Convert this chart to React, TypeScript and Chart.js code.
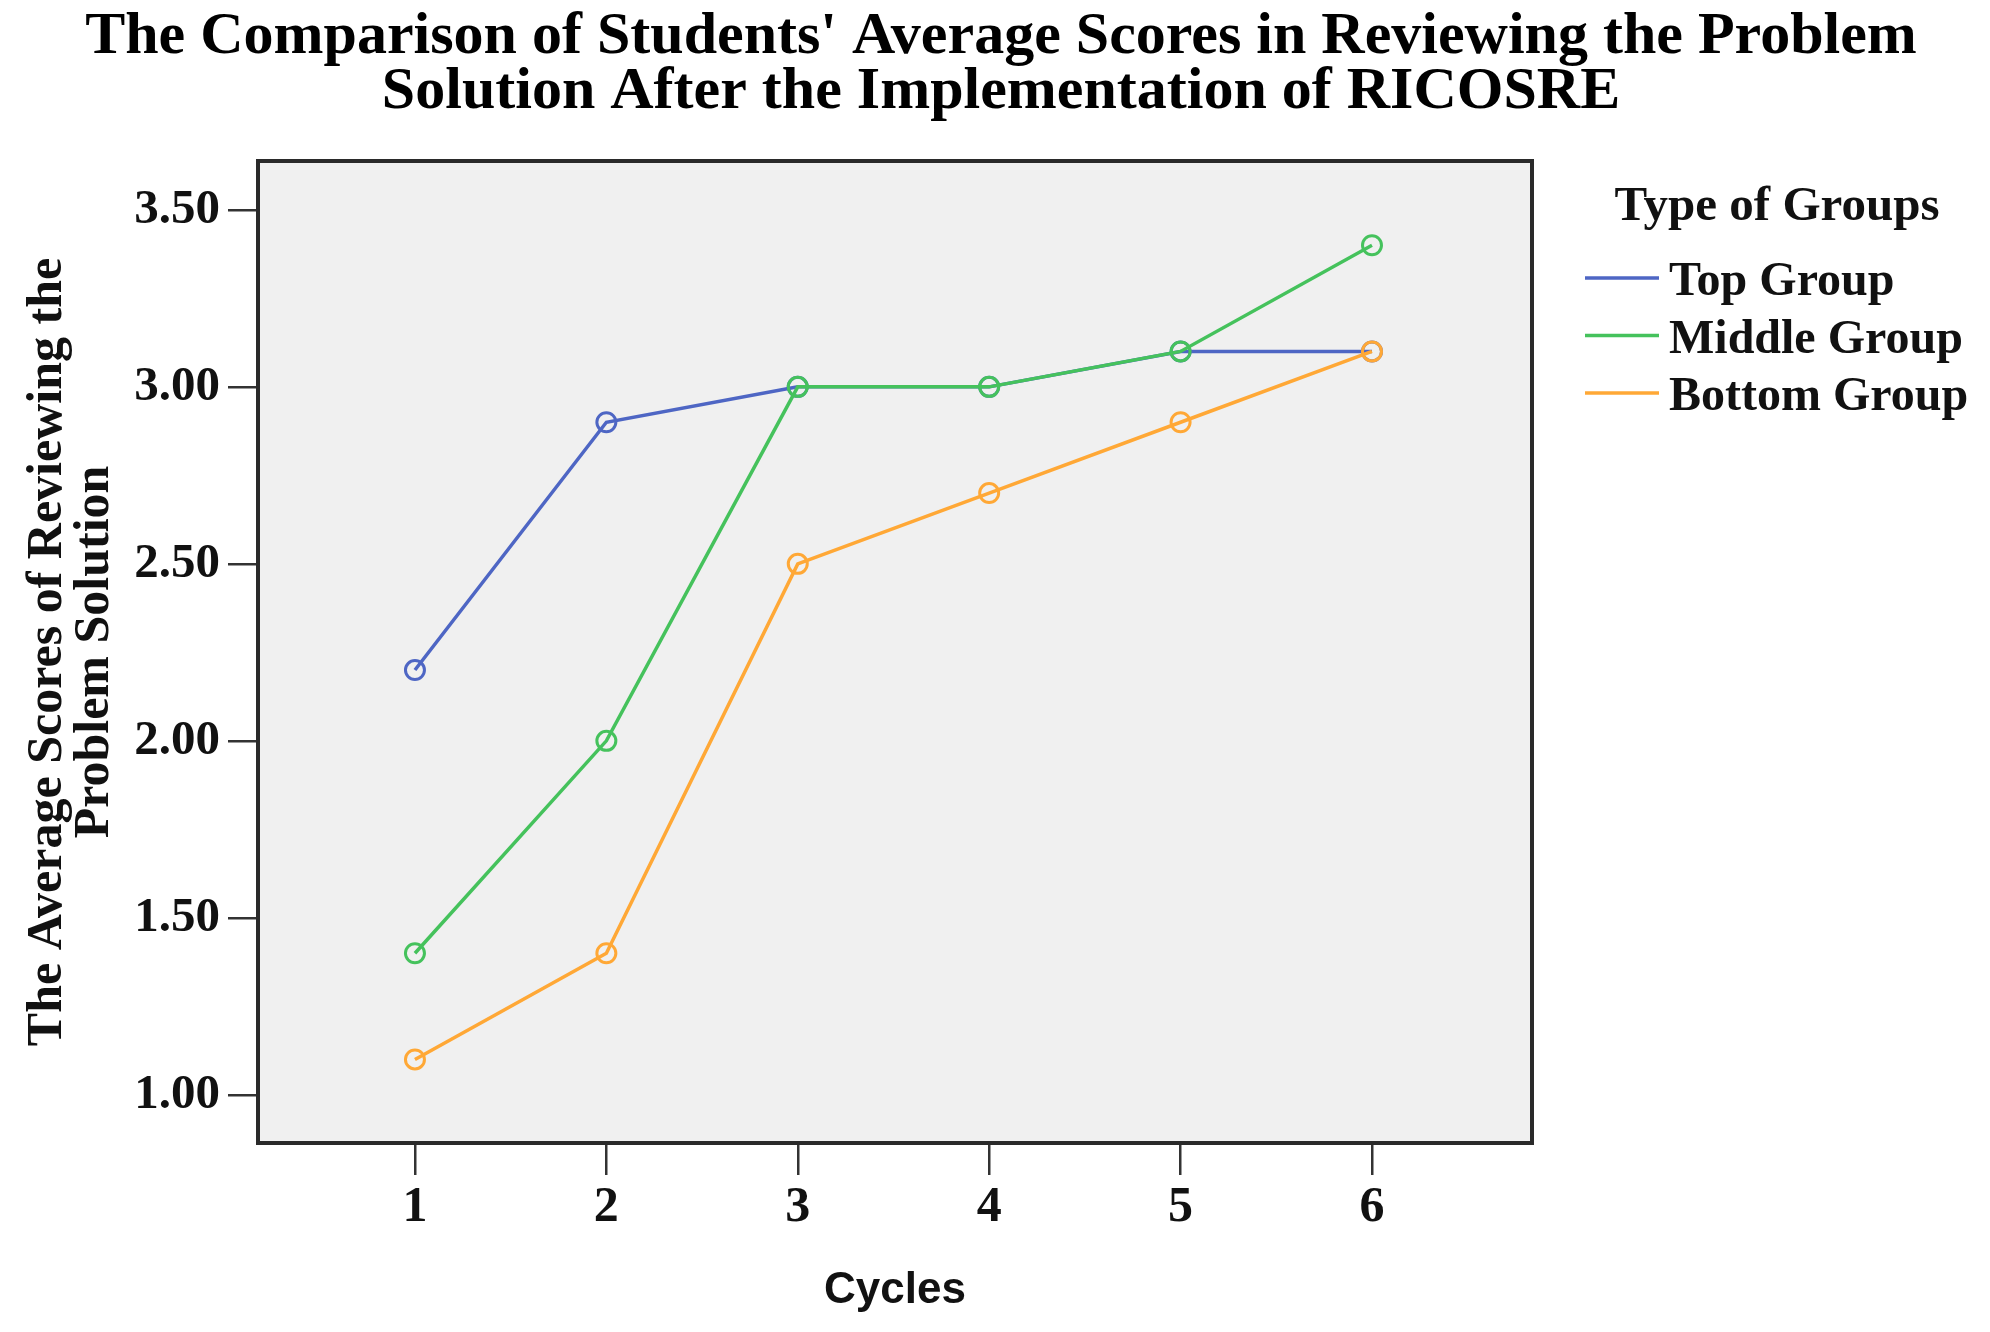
import React, { useEffect, useRef } from 'react';
import { Chart, registerables } from 'chart.js';

Chart.register(...registerables);

const cycles = [1, 2, 3, 4, 5, 6];
const topGroup = [2.2, 2.9, 3.0, 3.0, 3.1, 3.1];
const middleGroup = [1.4, 2.0, 3.0, 3.0, 3.1, 3.4];
const bottomGroup = [1.1, 1.4, 2.5, 2.7, 2.9, 3.1];
const yTickValues = [1.0, 1.5, 2.0, 2.5, 3.0, 3.5];
const seriesNames = ['Top Group', 'Middle Group', 'Bottom Group'];
const seriesColors = ['#4E66C4', '#45C25C', '#FFA836'];
const titleLines = [
  "The Comparison of Students' Average Scores in Reviewing the Problem",
  'Solution After the Implementation of RICOSRE',
];
const yTitleLines = ['The Average Scores of Reviewing the', 'Problem Solution'];
const xTitleText = 'Cycles';
const legendTitleText = 'Type of Groups';

const SERIF = '"Liberation Serif", "Times New Roman", serif';
const SANS = '"Liberation Sans", Arial, sans-serif';

const framePlugin = {
  id: 'plotFrame',
  beforeDraw(chart: any) {
    const { ctx, chartArea } = chart;
    ctx.save();
    ctx.fillStyle = '#F0F0F0';
    ctx.fillRect(chartArea.left, chartArea.top, chartArea.right - chartArea.left, chartArea.bottom - chartArea.top);
    ctx.restore();
  },
  beforeDatasetsDraw(chart: any) {
    const { ctx, chartArea } = chart;
    ctx.save();
    ctx.strokeStyle = '#2A2A2A';
    ctx.lineWidth = 4;
    ctx.strokeRect(chartArea.left, chartArea.top, chartArea.right - chartArea.left, chartArea.bottom - chartArea.top);
    ctx.restore();
  },
};

const sideLegendPlugin = {
  id: 'sideLegend',
  afterDraw(chart: any) {
    const { ctx, chartArea } = chart;
    const x0 = chartArea.right;
    ctx.save();
    ctx.fillStyle = '#111';
    ctx.font = `bold 49px ${SERIF}`;
    ctx.textBaseline = 'middle';
    ctx.textAlign = 'center';
    ctx.fillText(legendTitleText, x0 + 245, 207);
    ctx.textAlign = 'left';
    ctx.font = `bold 48px ${SERIF}`;
    chart.data.datasets.forEach((ds: any, i: number) => {
      const ly = 278 + i * 57.5;
      ctx.strokeStyle = ds.borderColor;
      ctx.lineWidth = 3.5;
      ctx.beginPath();
      ctx.moveTo(x0 + 53, ly);
      ctx.lineTo(x0 + 127, ly);
      ctx.stroke();
      ctx.fillStyle = '#111';
      ctx.fillText(ds.label, x0 + 137, ly + 5);
    });
    ctx.restore();
  },
};

export default function App() {
  const canvasRef = useRef<HTMLCanvasElement | null>(null);

  useEffect(() => {
    const canvas = canvasRef.current;
    if (!canvas) return;
    const seriesValues = [topGroup, middleGroup, bottomGroup];
    const datasets = seriesValues.map((vals, i) => ({
      label: seriesNames[i],
      data: cycles.map((c, j) => ({ x: c, y: vals[j] })),
      borderColor: seriesColors[i],
      backgroundColor: seriesColors[i],
      pointBorderColor: seriesColors[i],
      pointBackgroundColor: 'rgba(0,0,0,0)',
      pointRadius: 9.5,
      pointBorderWidth: 3,
      borderWidth: 3.5,
      tension: 0,
      fill: false,
      order: 3 - i,
    }));

    const chart = new Chart(canvas, {
      type: 'line',
      data: { datasets },
      options: {
        animation: false,
        responsive: false,
        devicePixelRatio: 1,
        layout: { padding: { left: 12, right: 0, top: 0, bottom: 0 } },
        plugins: {
          legend: { display: false },
          tooltip: { enabled: false },
          title: {
            display: true,
            text: titleLines,
            color: '#000',
            font: { family: SERIF, size: 60, weight: 'bold', lineHeight: 55 / 60 },
            padding: { top: 10, bottom: 41 },
          },
        },
        scales: {
          x: {
            type: 'linear',
            min: 0.18,
            max: 6.836,
            afterBuildTicks: (scale: any) => {
              scale.ticks = cycles.map((v) => ({ value: v }));
            },
            afterFit: (scale: any) => {
              scale.height = 1332 - 1143;
            },
            ticks: {
              color: '#111',
              font: { family: SERIF, size: 50, weight: 'bold' },
              padding: 3,
              callback: (v: any) => String(v),
            },
            grid: {
              display: true,
              drawOnChartArea: false,
              drawTicks: true,
              tickLength: 32,
              color: '#333',
              lineWidth: 2.5,
            },
            border: { display: false },
            title: {
              display: true,
              text: xTitleText,
              color: '#111',
              font: { family: SANS, size: 44, weight: 'bold' },
              padding: { top: 0, bottom: 15 },
            },
          },
          y: {
            type: 'linear',
            position: 'left',
            min: 0.864,
            max: 3.638,
            afterBuildTicks: (scale: any) => {
              scale.ticks = yTickValues.map((v) => ({ value: v }));
            },
            afterFit: (scale: any) => {
              scale.width = 258 - 12;
            },
            ticks: {
              color: '#111',
              font: { family: SERIF, size: 49, weight: 'bold' },
              padding: 8,
              callback: (v: any) => Number(v).toFixed(2),
            },
            grid: {
              display: true,
              drawOnChartArea: false,
              drawTicks: true,
              tickLength: 30,
              color: '#333',
              lineWidth: 2.5,
            },
            border: { display: false },
            title: {
              display: true,
              text: yTitleLines,
              color: '#111',
              font: { family: SERIF, size: 50, weight: 'bold', lineHeight: 47 / 50 },
              padding: { top: 13, bottom: 0 },
            },
          },
          legendSpace: {
            type: 'linear',
            position: 'right',
            display: true,
            afterFit: (scale: any) => {
              scale.width = 1990 - 1532;
            },
            ticks: { display: false },
            grid: { display: false, drawTicks: false },
            border: { display: false },
          },
        },
      } as any,
      plugins: [framePlugin, sideLegendPlugin],
    });

    return () => {
      chart.destroy();
    };
  }, []);

  return (
    <div style={{ position: 'fixed', left: 0, top: 0, width: 1990, height: 1332, background: '#fff' }}>
      <canvas ref={canvasRef} width={1990} height={1332} style={{ width: 1990, height: 1332, display: 'block' }} />
    </div>
  );
}
